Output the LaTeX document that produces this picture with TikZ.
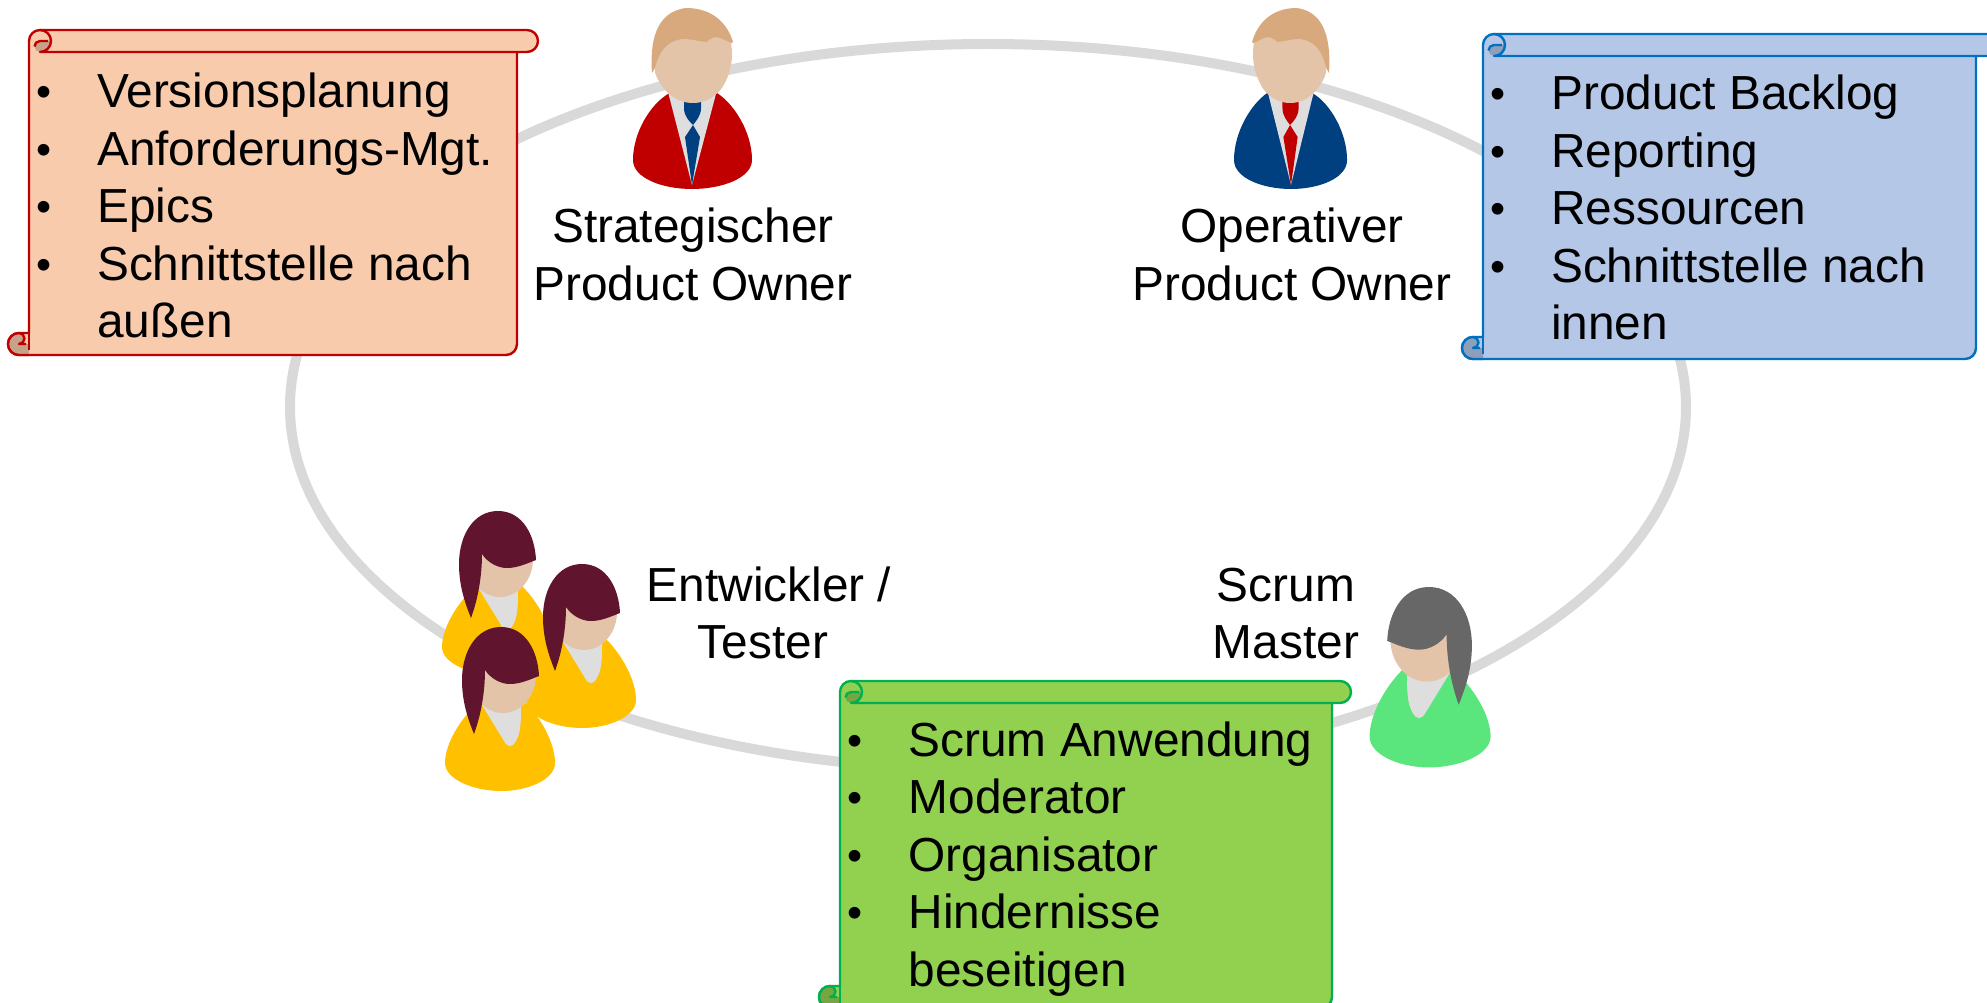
\documentclass[tikz,border=0pt]{standalone}
\usepackage{fontspec}
\setmainfont{Liberation Sans}
\definecolor{ringgrey}{HTML}{D9D9D9}
\definecolor{shirtgrey}{HTML}{DEDEDE}
\definecolor{skin}{HTML}{E4C4A9}
\definecolor{blond}{HTML}{D8A97C}
\definecolor{suitred}{HTML}{C00000}
\definecolor{suitblue}{HTML}{004080}
\definecolor{plum}{HTML}{60142E}
\definecolor{amber}{HTML}{FFC000}
\definecolor{mint}{HTML}{5AE67C}
\definecolor{darkgrey}{HTML}{676767}
\definecolor{redfill}{HTML}{F8CBAD}
\definecolor{bluefill}{HTML}{B4C7E7}
\definecolor{greenfill}{HTML}{92D050}
\definecolor{blueline}{HTML}{0070C0}
\definecolor{greenline}{HTML}{00B050}
\newcommand{\txtsize}{\fontsize{47.8}{57.5}\selectfont}
\newcommand{\bitem}[1]{\hbox{\makebox[53pt][l]{\hspace{-8pt}\raisebox{1pt}{\scalebox{0.9}{•}}}#1}}
\newcommand{\citem}[1]{\hbox{\hspace{53pt}#1}}
\newcommand{\scrollshape}[7]{% L,T,R,Rr,B,fill,line
  \path[fill=#6,draw=#7,scrollline] (#1+11,#2) -- (#4-11,#2) arc[start angle=-90,end angle=90,radius=11]
    -- (#3,#2+22) -- (#3,#5-11) arc[start angle=0,end angle=90,radius=11]
    -- (#1-10,#5) arc[start angle=90,end angle=270,radius=11] -- (#1,#5-22) -- (#1,#2+11)
    arc[start angle=180,end angle=270,radius=11] -- cycle;
  \path[fill=#6!80!black,draw=none] (#1+11,#2+22) arc[start angle=90,end angle=270,radius=5.5]
    -- (#1+22,#2+11) arc[start angle=0,end angle=90,radius=11] -- cycle;
  \draw[#7,scrollline] (#1+5.5,#2+16.5) arc[start angle=180,end angle=270,radius=5.5] -- (#1+19,#2+11);
  \draw[#7,scrollline] (#1+11,#2) arc[start angle=-90,end angle=90,radius=11] -- (#3,#2+22);
  \path[fill=#6!80!black,draw=none] (#1-10,#5) arc[start angle=90,end angle=270,radius=11]
    arc[start angle=-90,end angle=90,radius=5.5] -- (#1,#5-11) -- (#1,#5) -- cycle;
  \draw[#7,scrollline] (#1,#5) -- (#1-10,#5) arc[start angle=90,end angle=270,radius=11]
    arc[start angle=-90,end angle=90,radius=5.5] -- (#1-3,#5-11);
  \draw[#7,scrollline] (#1-10,#5-22) -- (#1,#5-22) -- (#1,#5-5);
}
\newcommand{\manfig}[4]{% x, xscale, suit, tie
  \begin{scope}[shift={(#1,0)},xscale=#2]
    \fill[#3] (-24,94) .. controls (-41,104) and (-59,132) .. (-59,160) .. controls (-59,178) and (-30,189) .. (0,189)
      .. controls (30,189) and (60,178) .. (60,160) .. controls (60,132) and (42,104) .. (25,93) -- cycle;
    \fill[shirtgrey] (-24,92) -- (0,185) -- (25,90) -- cycle;
    \fill[#4] (-8,100) -- (9,100) -- (9,108) .. controls (9,116) and (4,121) .. (1,125) .. controls (-3,121) and (-8,116) .. (-8,108) -- cycle;
    \fill[#4] (1,125) -- (8,137) -- (0,185) -- (-7,137) -- cycle;
    \fill[blond] (-40,73) .. controls (-42,45) and (-38,12) .. (-6,8) .. controls (22,8) and (36,25) .. (41,42) -- (28,50) -- (-37,68) -- cycle;
    \fill[skin] (-37,68) .. controls (-33,52) and (-25,40) .. (-8,39) .. controls (0,39) and (8,42) .. (15,42)
      .. controls (18,38) and (24,36) .. (28,38) .. controls (33,40) and (36,42) .. (39,43)
      .. controls (42,60) and (38,75) .. (30,88) .. controls (22,98) and (12,103) .. (1,103)
      .. controls (-12,103) and (-22,97) .. (-30,86) .. controls (-34,80) and (-38,74) .. (-37,68) -- cycle;
  \end{scope}
}
\newcommand{\womanfig}[6]{% x,y,xscale,yscale,hair,body
  \begin{scope}[shift={(#1,#2)},xscale=#3,yscale=#4]
    \fill[#6] (-19,72) .. controls (-42,92) and (-56,118) .. (-56,136) .. controls (-56,152) and (-28,164) .. (0,164)
      .. controls (28,164) and (54,152) .. (54,136) .. controls (54,118) and (42,92) .. (21,72) -- cycle;
    \fill[shirtgrey] (-19,78) -- (3,114) .. controls (7,121) and (11,121) .. (15,114) .. controls (20,105) and (20,95) .. (20,76) -- cycle;
    \fill[skin] (2,48) ellipse[x radius=33,y radius=38];
    \fill[#5] (0,0) .. controls (-25,0) and (-39,25) .. (-39,53) .. controls (-39,75) and (-33,92) .. (-27,107)
      .. controls (-20,88) and (-16,65) .. (-16,43) .. controls (-10,52) and (0,57) .. (9,57)
      .. controls (20,57) and (30,52) .. (38,49) .. controls (37,25) and (25,0) .. (0,0) -- cycle;
  \end{scope}
}
\tikzset{
  scrollline/.style={line width=2.4pt,line join=round},
  listtext/.style={anchor=base west,inner sep=0pt,font=\txtsize},
  rolelabel/.style={anchor=base,inner sep=0pt,font=\txtsize}
}
\begin{document}
\begin{tikzpicture}[x=1pt,y=-1pt]
  \clip (0,0) rectangle (1987,1003);
  \fill[white] (0,0) rectangle (1987,1003);
  \draw[ringgrey,line width=10pt] (988,407) ellipse[x radius=698,y radius=363];

  \manfig{692}{1}{suitred}{suitblue}
  \manfig{1291}{-0.95}{suitblue}{suitred}
  \womanfig{498}{511}{1}{1}{plum}{amber}
  \womanfig{582}{564}{1}{1}{plum}{amber}
  \womanfig{501}{627}{1}{1}{plum}{amber}
  \womanfig{1429}{587}{-1.1}{1.1}{darkgrey}{mint}

  \scrollshape{29}{30}{517}{538}{355}{redfill}{suitred}
  \scrollshape{1483}{34}{1976}{2010}{359}{bluefill}{blueline}
  \scrollshape{840}{681}{1332}{1351}{1008}{greenfill}{greenline}

  \node[listtext] (redlist) at (44,108) {\vtop{\baselineskip=57.5pt
    \bitem{Versionsplanung}\bitem{Anforderungs-Mgt.}\bitem{Epics}\bitem{Schnittstelle nach}\citem{außen}}};
  \node[listtext] (bluelist) at (1498,110) {\vtop{\baselineskip=57.5pt
    \bitem{Product Backlog}\bitem{Reporting}\bitem{Ressourcen}\bitem{Schnittstelle nach}\citem{innen}}};
  \node[listtext] (greenlist) at (855.5,756) {\vtop{\baselineskip=57.5pt
    \bitem{Scrum Anwendung}\bitem{Moderator}\bitem{Organisator}\bitem{Hindernisse}\citem{beseitigen}}};

  \node[rolelabel] (spo1) at (693,243) {Strategischer};
  \node[rolelabel] (spo2) at (693,300) {Product Owner};
  \node[rolelabel] (opo1) at (1292,243) {Operativer};
  \node[rolelabel] (opo2) at (1292,300) {Product Owner};
  \node[rolelabel] (dev1) at (769,601) {Entwickler /};
  \node[rolelabel] (dev2) at (763,658) {Tester};
  \node[rolelabel] (sm1) at (1286,601) {Scrum};
  \node[rolelabel] (sm2) at (1286,658) {Master};
\end{tikzpicture}
\end{document}
